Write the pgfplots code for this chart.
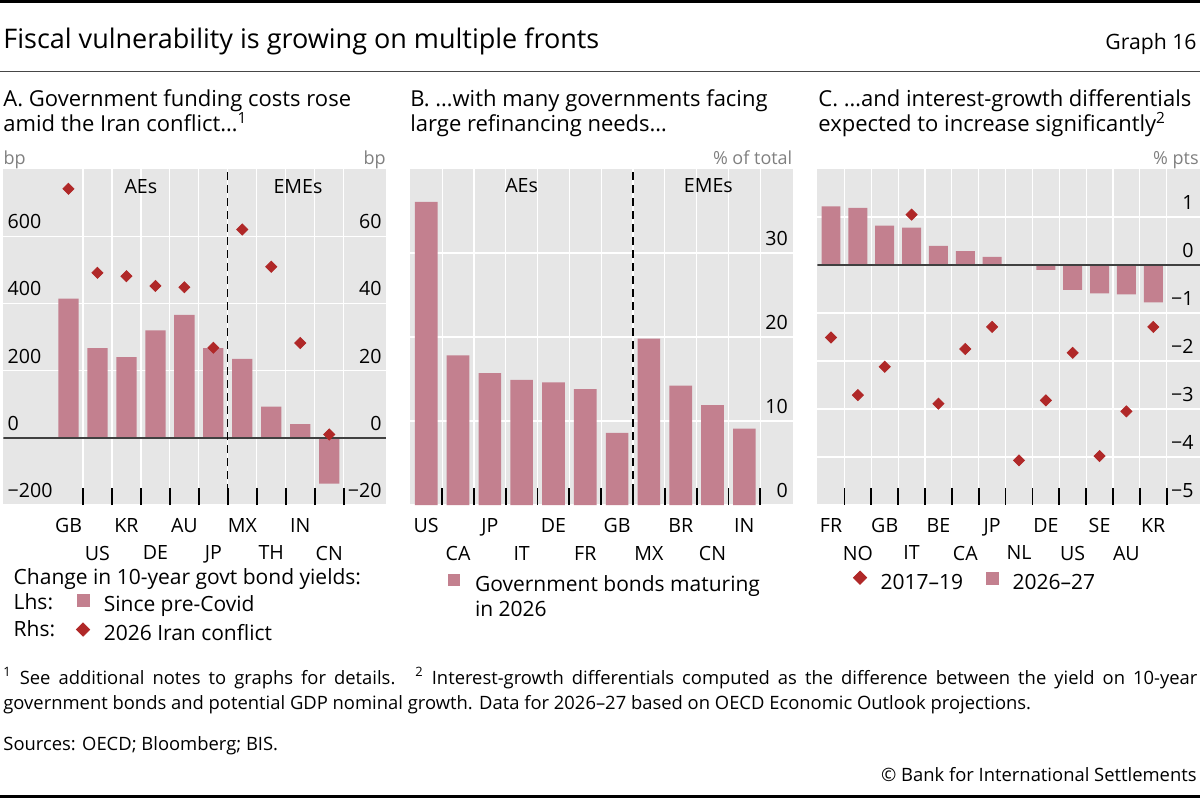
\documentclass[border=0pt]{standalone}
\usepackage{fontspec}
\setmainfont{Open Sans}
\usepackage{pgfplots}
\pgfplotsset{compat=1.18}
\definecolor{barc}{RGB}{195,128,143}
\definecolor{diac}{RGB}{176,40,40}
\definecolor{bgc}{RGB}{230,230,230}
\definecolor{zlc}{RGB}{64,64,64}
\definecolor{unitc}{RGB}{128,128,128}
\definecolor{linec}{RGB}{70,70,70}
\newcommand\tickfont{\fontsize{9.8pt}{11pt}\selectfont}
\newcommand\legfont{\fontsize{10.5pt}{12pt}\selectfont}
\newcommand\unitfont{\fontsize{9pt}{11pt}\selectfont}
\newcommand\ptitlefont{\fontsize{11pt}{13pt}\selectfont}
\newcommand\notefont{\fontsize{9.2pt}{11pt}\selectfont}
\pgfplotsset{
  barleg/.style={legend image code/.code={\fill[barc] (0pt,0pt) rectangle (6pt,6pt);}},
  diamleg/.style={legend image code/.code={\fill[diac] (3pt,-0.1pt) -- (6.3pt,3.2pt) -- (3pt,6.5pt) -- (-0.3pt,3.2pt) -- cycle;}},
  diam/.style={color=diac, only marks, mark=square*, mark size=1.95pt, mark options={rotate=45, fill=diac, draw=none}, diamleg},
  bisbase/.style={
    scale only axis, height=168pt,
    anchor=north west,
    axis line style={draw=none},
    /pgf/number format/assume math mode=true,
    tick label style={font=\tickfont},
    major tick length=0pt,
    ymajorgrids, xmajorgrids=false,
    major grid style={white, line width=0.6pt},
    minor grid style={white, line width=0.6pt},
    xminorgrids,
    minor tick length=8.3pt,
    minor tick style={black, line width=0.9pt},
    xtick pos=left,
    xticklabel style={anchor=north, inner sep=0pt, yshift=-6.5pt},
    extra x tick style={xticklabel style={yshift=-13.8pt}, grid=none},
    legend cell align=left,
  },
  bisleg/.style={legend style={draw=none, fill=none, inner sep=0pt, outer sep=0pt,
      font=\legfont, nodes={inner sep=0pt, text height=7.5pt, text depth=2.5pt}}},
}
\begin{document}
\begin{tikzpicture}
% frame lines and titles
\fill[black] (0pt,0pt) rectangle (600pt,-1.5pt);
\fill[black] (0pt,-397.65pt) rectangle (600pt,-399pt);
\draw[linec, line width=0.75pt] (0pt,-35.85pt) -- (600pt,-35.85pt);
\node[anchor=base west, inner sep=0pt, font=\fontsize{13.5pt}{15pt}\selectfont] at (1.5pt,-24.1pt) {Fiscal vulnerability is growing on multiple fronts};
\node[anchor=base east, inner sep=0pt, font=\fontsize{10.6pt}{13pt}\selectfont] at (598.5pt,-24.6pt) {Graph 16};
% panel titles
\node[anchor=base west, inner sep=0pt, font=\ptitlefont] at (1.5pt,-53pt) {A. Government funding costs rose};
\node[anchor=base west, inner sep=0pt, font=\ptitlefont] at (1.5pt,-65.85pt) {amid the Iran conflict…\textsuperscript{1}};
\node[anchor=base west, inner sep=0pt, font=\ptitlefont] at (205pt,-53pt) {B. …with many governments facing};
\node[anchor=base west, inner sep=0pt, font=\ptitlefont] at (205pt,-65.85pt) {large refinancing needs…};
\node[anchor=base west, inner sep=0pt, font=\ptitlefont] at (409pt,-53pt) {C. …and interest-growth differentials};
\node[anchor=base west, inner sep=0pt, font=\ptitlefont] at (409pt,-65.85pt) {expected to increase significantly\textsuperscript{2}};
% unit labels
\node[anchor=base west, inner sep=0pt, font=\unitfont, text=unitc] at (1.65pt,-82pt) {bp};
\node[anchor=base east, inner sep=0pt, font=\unitfont, text=unitc] at (193pt,-82pt) {bp};
\node[anchor=base east, inner sep=0pt, font=\unitfont, text=unitc] at (396.35pt,-82pt) {\% of total};
\node[anchor=base east, inner sep=0pt, font=\unitfont, text=unitc] at (599.5pt,-82pt) {\% pts};

% ---------------- Panel A (left axis) ----------------
\begin{axis}[bisbase, at={(1.65pt,-84.5pt)}, width=191.5pt,
  axis background/.style={fill=bgc},
  xmin=-2.25, xmax=10.97, ymin=-200, ymax=800,
  xtick={0,2,4,6,8}, xticklabels={GB,KR,AU,MX,IN},
  extra x ticks={1,3,5,7,9}, extra x tick labels={US,DE,JP,TH,CN},
  minor xtick={0.5,1.5,...,9.5},
  ytick={-200,0,200,400,600}, yticklabels={−200,0,200,400,600},
  yticklabel style={anchor=south west, inner sep=0pt, xshift=2pt, yshift=3.5pt},
]
\addplot[ybar, bar width=0.7, fill=barc, draw=none] coordinates {
 (0,414) (1,267) (2,240) (3,320) (4,366) (5,267) (6,235) (7,93) (8,41) (9,-136)};
\addplot[zlc, line width=0.9pt] coordinates {(-2.25,0) (10.97,0)};
\addplot[black, line width=0.6pt, dash pattern=on 4pt off 2.5pt] coordinates {(5.5,-200) (5.5,800)};
\node[font=\tickfont, anchor=base, inner sep=0pt] at (axis cs:2.5,727) {AEs};
\node[font=\tickfont, anchor=base, inner sep=0pt] at (axis cs:7.92,727) {EMEs};
\end{axis}
% ---------------- Panel A (right axis) ----------------
\begin{axis}[bisbase, bisleg, at={(1.65pt,-84.5pt)}, width=191.5pt,
  xmin=-2.25, xmax=10.97, ymin=-20, ymax=80,
  xtick=\empty, xminorgrids=false, ymajorgrids=false,
  ytick={-20,0,20,40,60}, yticklabels={−20,0,20,40,60},
  yticklabel pos=right,
  yticklabel style={anchor=south east, inner sep=0pt, xshift=-2.15pt, yshift=3.5pt},
  legend style={at={(0.19,-0.264)}, anchor=north west, row sep=3.2pt,
    /tikz/every odd column/.append style={column sep=6.85pt}},
]
\addlegendimage{barleg}\addlegendentry{Since pre-Covid}
\addplot[diam] coordinates {
 (0,74.1) (1,49.1) (2,48.1) (3,45.2) (4,44.8) (5,26.8) (6,62) (7,50.9) (8,28.2) (9,1.0)};
\addlegendentry{2026 Iran conflict}
\end{axis}
\node[anchor=base west, inner sep=0pt, font=\legfont] at (6.65pt,-292pt) {Change in 10-year govt bond yields:};
\node[anchor=base west, inner sep=0pt, font=\legfont] at (6.65pt,-304.85pt) {Lhs:};
\node[anchor=base west, inner sep=0pt, font=\legfont] at (6.65pt,-318.15pt) {Rhs:};

% ---------------- Panel B ----------------
\begin{axis}[bisbase, bisleg, at={(205pt,-84.5pt)}, width=191.35pt,
  axis background/.style={fill=bgc},
  xmin=-0.51, xmax=11.52, ymin=0, ymax=40,
  xtick={0,2,4,6,8,10}, xticklabels={US,JP,DE,GB,BR,IN},
  extra x ticks={1,3,5,7,9}, extra x tick labels={CA,IT,FR,MX,CN},
  minor xtick={0.5,1.5,...,10.5},
  ytick={0,10,20,30}, yticklabels={0,10,20,30},
  yticklabel pos=right,
  yticklabel style={anchor=south east, inner sep=0pt, xshift=-2.2pt, yshift=3.5pt},
  legend style={at={(0.0993,-0.2054)}, anchor=north west, row sep=2.6pt,
    /tikz/every odd column/.append style={column sep=7.5pt}},
]
\addplot[ybar, bar width=0.71, fill=barc, draw=none, barleg] coordinates {
 (0,36.1) (1,17.8) (2,15.7) (3,14.9) (4,14.6) (5,13.8) (6,8.6) (7,19.8) (8,14.2) (9,11.9) (10,9.1)};
\addlegendentry{Government bonds maturing}
\addlegendimage{empty legend}\addlegendentry{in 2026}
\addplot[black, line width=0.6pt, dash pattern=on 4pt off 2.5pt, forget plot] coordinates {(6.5,0) (6.5,40)};
\node[font=\tickfont, anchor=base, inner sep=0pt] at (axis cs:3,37.2) {AEs};
\node[font=\tickfont, anchor=base, inner sep=0pt] at (axis cs:8.87,37.2) {EMEs};
\end{axis}

% ---------------- Panel C ----------------
\begin{axis}[bisbase, bisleg, at={(408.65pt,-84.5pt)}, width=191.35pt,
  axis background/.style={fill=bgc},
  xmin=-0.51, xmax=13.74, ymin=-5, ymax=2,
  xtick={0,2,4,6,8,10,12}, xticklabels={FR,GB,BE,JP,DE,SE,KR},
  extra x ticks={1,3,5,7,9,11}, extra x tick labels={NO,IT,CA,NL,US,AU},
  minor xtick={0.5,1.5,...,12.5},
  ytick={-5,-4,-3,-2,-1,0,1}, yticklabels={−5,−4,−3,−2,−1,0,1},
  yticklabel pos=right,
  yticklabel style={anchor=south east, inner sep=0pt, xshift=-3pt, yshift=3.5pt},
  legend columns=2,
  legend style={at={(0.0933,-0.1955)}, anchor=north west,
    /tikz/every odd column/.append style={column sep=6.8pt},
    /tikz/every even column/.append style={column sep=11.5pt}},
]
\addplot[ybar, bar width=0.707, fill=barc, draw=none, forget plot] coordinates {
 (0,1.22) (1,1.19) (2,0.82) (3,0.78) (4,0.40) (5,0.29) (6,0.17) (7,0) (8,-0.10) (9,-0.52) (10,-0.59) (11,-0.61) (12,-0.78)};
\addplot[zlc, line width=0.9pt, forget plot] coordinates {(-0.51,0) (13.74,0)};
\addplot[diam] coordinates {
 (0,-1.51) (1,-2.71) (2,-2.12) (3,1.05) (4,-2.89) (5,-1.75) (6,-1.29) (7,-4.07) (8,-2.82) (9,-1.83) (10,-3.98) (11,-3.05) (12,-1.29)};
\addlegendentry{2017–19}
\addlegendimage{barleg}\addlegendentry{2026–27}
\end{axis}

% ---------------- footnotes ----------------
\node[anchor=base west, inner sep=0pt, font=\notefont] at (1.5pt,-342pt) {\makebox[597pt][s]{\textsuperscript{1}\ See additional notes to graphs for details.\hspace{10pt}\textsuperscript{2}\ Interest-growth differentials computed as the difference between the yield on 10-year}};
\node[anchor=base west, inner sep=0pt, font=\notefont] at (1.5pt,-354.85pt) {government bonds and potential GDP nominal growth. Data for 2026–27 based on OECD Economic Outlook projections.};
\node[anchor=base west, inner sep=0pt, font=\notefont] at (1.5pt,-375.35pt) {Sources: OECD; Bloomberg; BIS.};
\node[anchor=base east, inner sep=0pt, font=\notefont] at (598.5pt,-390.5pt) {© Bank for International Settlements};

\pgfresetboundingbox
\path[use as bounding box] (0pt,0pt) rectangle (600pt,-399pt);
\end{tikzpicture}
\end{document}
